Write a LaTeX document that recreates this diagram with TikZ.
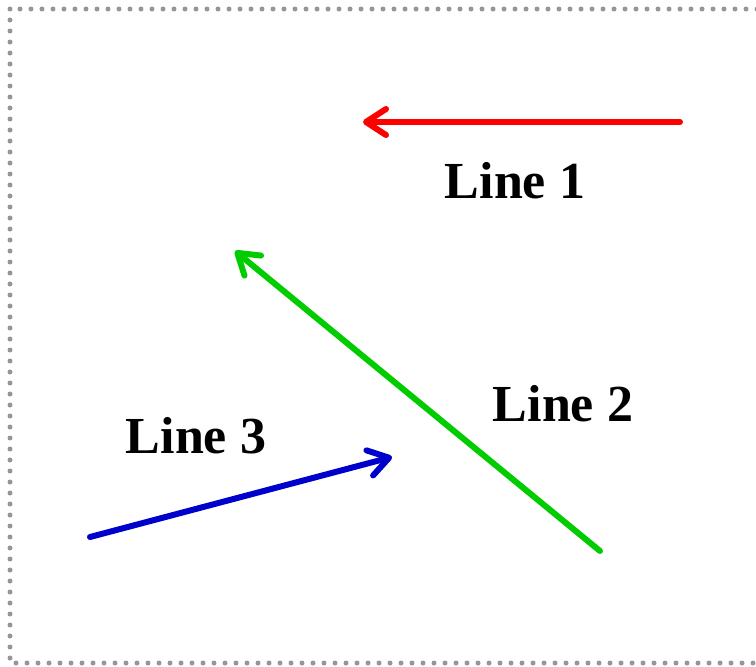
\documentclass[tikz,border=0pt]{standalone}
\usepackage{fontspec}
\setmainfont{Liberation Serif}
\usetikzlibrary{arrows.meta}
\definecolor{lineRed}{RGB}{255,0,0}
\definecolor{lineGreen}{RGB}{0,204,0}
\definecolor{lineBlue}{RGB}{0,0,204}
\definecolor{frameGray}{RGB}{150,150,150}
\tikzset{
  vec/.style={line width=6pt, line cap=round,
    -{Straight Barb[round, length=20pt, width=26pt]}},
  lbl/.style={font=\fontsize{52}{60}\selectfont\bfseries, inner sep=0pt},
  frame/.style={draw=frameGray, line width=5pt, line cap=round,
    dash pattern=on 0pt off 11pt}
}
\begin{document}
\begin{tikzpicture}[x=1pt, y=-1pt]
  \useasboundingbox (0,0) rectangle (756,667);
  \begin{scope}
    \clip (0,0) rectangle (756,667);
    \draw[frame] (10,9) rectangle (780,663);
  \end{scope}
  % end points of the three vectors
  \coordinate (r1) at (680,122);
  \coordinate (r2) at (363,122);
  \coordinate (g1) at (600,551);
  \coordinate (g2) at (235,251);
  \coordinate (b1) at (90,537);
  \coordinate (b2) at (392,457);
  \draw[vec, lineRed] (r1) -- (r2);
  \draw[vec, lineGreen] (g1) -- (g2);
  \draw[vec, lineBlue] (b1) -- (b2);
  % captions
  \node[lbl] (t1) at (515,181) {Line 1};
  \node[lbl] (t2) at (563,404) {Line 2};
  \node[lbl] (t3) at (196,436) {Line 3};
\end{tikzpicture}
\end{document}
